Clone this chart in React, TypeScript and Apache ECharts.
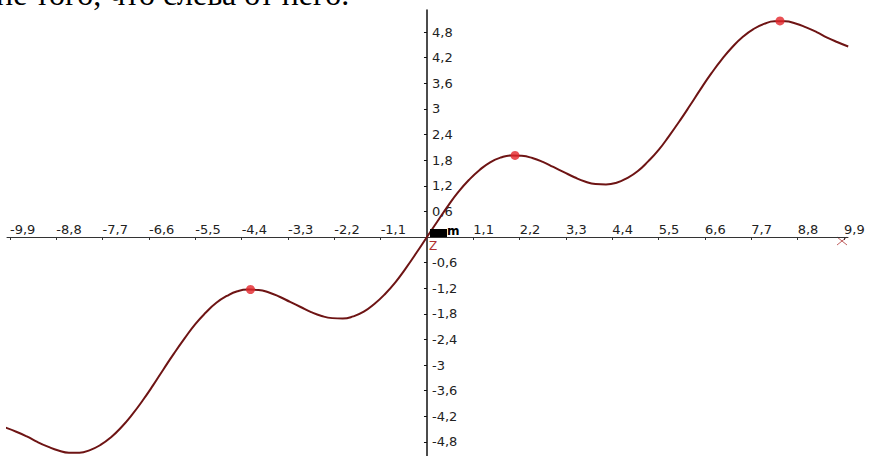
import { useEffect, useRef } from "react";
import * as echarts from "echarts";

// Traced curve, sampled every 0.25 along x
const curveX = [
  -10.13, -9.75, -9.5, -9.25, -9, -8.75, -8.5, -8.25, -8, -7.75, -7.5, -7.25, -7, -6.75,
  -6.5, -6.25, -6, -5.75, -5.5, -5.25, -5, -4.75, -4.5, -4.25, -4, -3.75, -3.5, -3.25, -3,
  -2.75, -2.5, -2.25, -2, -1.75, -1.5, -1.25, -1, -0.75, -0.5, -0.25, 0, 0.25, 0.5, 0.75, 1,
  1.25, 1.5, 1.75, 2, 2.25, 2.5, 2.75, 3, 3.25, 3.5, 3.75, 4, 4.25, 4.5, 4.75, 5, 5.25, 5.5,
  5.75, 6, 6.25, 6.5, 6.75, 7, 7.25, 7.5, 7.75, 8, 8.25, 8.5, 8.75, 9, 9.25, 9.5, 9.75, 10,
];
const curveY = [
  -4.42, -4.56, -4.67, -4.8, -4.91, -5.0, -5.05, -5.05, -4.99, -4.87, -4.69, -4.45,
  -4.16, -3.83, -3.47, -3.09, -2.72, -2.37, -2.04, -1.77, -1.54, -1.38, -1.27, -1.23, -1.24,
  -1.3, -1.4, -1.52, -1.64, -1.76, -1.85, -1.9, -1.91, -1.86, -1.75, -1.57, -1.34, -1.06,
  -0.73, -0.37, 0, 0.37, 0.73, 1.06, 1.34, 1.57, 1.75, 1.86, 1.91, 1.9, 1.85, 1.76, 1.64,
  1.52, 1.4, 1.3, 1.24, 1.23, 1.27, 1.38, 1.54, 1.77, 2.04, 2.37, 2.72, 3.09, 3.47, 3.83,
  4.16, 4.45, 4.69, 4.87, 4.99, 5.05, 5.05, 5.0, 4.91, 4.8, 4.67, 4.56, 4.46,
];

// Local maxima marked with dots
const peakX = [-4.19, 2.09, 8.38];
const peakY = [-1.23, 1.91, 5.06];

// Tick values on both axes
const xTickValues = [
  -9.9, -8.8, -7.7, -6.6, -5.5, -4.4, -3.3, -2.2, -1.1, 1.1, 2.2, 3.3, 4.4, 5.5, 6.6, 7.7, 8.8, 9.9,
];
const yTickValues = [
  -4.8, -4.2, -3.6, -3, -2.4, -1.8, -1.2, -0.6, 0.6, 1.2, 1.8, 2.4, 3, 3.6, 4.2, 4.8,
];

const caption = "не того, что слева от него.";

const fmt = (v: number) => String(Math.round(v * 10) / 10).replace(".", ",");

// Plot frame (pixels) and value window
const GRID_LEFT = 7;
const GRID_RIGHT = 23;
const GRID_TOP = 10;
const GRID_BOTTOM = 0;
const X_MIN = -9.97;
const X_MAX = 9.995;
const Y_MIN = -5.129;
const Y_MAX = 5.316;

export default function App() {
  const ref = useRef<HTMLDivElement>(null);

  useEffect(() => {
    if (!ref.current) return;
    const chart = echarts.init(ref.current, null, { renderer: "svg" });

    const W = 871;
    const H = 456;
    const plotW = W - GRID_LEFT - GRID_RIGHT;
    const plotH = H - GRID_TOP - GRID_BOTTOM;
    // shift the axes from the frame edges onto the zero lines
    const xAxisOffset = -((0 - Y_MIN) / (Y_MAX - Y_MIN)) * plotH;
    const yAxisOffset = -((0 - X_MIN) / (X_MAX - X_MIN)) * plotW;

    const labelFont = {
      color: "#222",
      fontFamily: "DejaVu Sans",
      fontSize: 13,
    };

    chart.setOption({
      animation: false,
      backgroundColor: "#fff",
      grid: {
        left: GRID_LEFT,
        right: GRID_RIGHT,
        top: GRID_TOP,
        bottom: GRID_BOTTOM,
        containLabel: false,
      },
      xAxis: {
        type: "value",
        position: "bottom",
        offset: xAxisOffset,
        min: X_MIN,
        max: X_MAX,
        splitLine: { show: false },
        axisLine: { onZero: false, lineStyle: { color: "#333", width: 1 } },
        axisTick: {
          show: true,
          length: 3,
          customValues: xTickValues,
          lineStyle: { color: "#333" },
        },
        axisLabel: {
          ...labelFont,
          inside: true,
          customValues: xTickValues,
          align: "left",
          verticalAlign: "bottom",
          margin: 1,
          formatter: (v: number) => fmt(v),
        },
      },
      yAxis: {
        type: "value",
        position: "left",
        offset: yAxisOffset,
        min: Y_MIN,
        max: Y_MAX,
        splitLine: { show: false },
        axisLine: { onZero: false, lineStyle: { color: "#111", width: 1.5 } },
        axisTick: {
          show: true,
          length: 3,
          customValues: yTickValues,
          lineStyle: { color: "#111" },
        },
        axisLabel: {
          ...labelFont,
          inside: true,
          customValues: yTickValues,
          align: "left",
          verticalAlign: "middle",
          margin: 5,
          formatter: (v: number) => fmt(v),
        },
      },
      series: [
        {
          type: "line",
          data: curveX.map((x, i) => [x, curveY[i]]),
          smooth: true,
          showSymbol: false,
          clip: false,
          lineStyle: { color: "#6e1414", width: 2 },
          z: 3,
        },
        {
          type: "scatter",
          data: peakX.map((x, i) => [x, peakY[i]]),
          symbolSize: 9,
          itemStyle: { color: "#e3262b" },
          clip: false,
          z: 4,
        },
      ],
      graphic: [
        {
          type: "text",
          x: -4,
          y: 10,
          style: {
            text: caption,
            fill: "#000",
            font: '32px "Liberation Serif"',
            verticalAlign: "bottom",
          },
        },
        {
          type: "rect",
          shape: { x: 430, y: 229, width: 17, height: 8 },
          style: { fill: "#000" },
          z: 10,
        },
        {
          type: "text",
          x: 447,
          y: 237,
          style: {
            text: "m",
            fill: "#000",
            font: 'bold 12px "DejaVu Sans"',
            verticalAlign: "bottom",
          },
          z: 10,
        },
        {
          type: "text",
          x: 429,
          y: 240,
          style: {
            text: "Z",
            fill: "#b03030",
            font: '12px "DejaVu Sans"',
            verticalAlign: "top",
          },
          z: 10,
        },
        {
          type: "line",
          shape: { x1: 837, y1: 237, x2: 847, y2: 245 },
          style: { stroke: "#c06060", lineWidth: 1 },
        },
        {
          type: "line",
          shape: { x1: 847, y1: 237, x2: 837, y2: 245 },
          style: { stroke: "#c06060", lineWidth: 1 },
        },
      ],
    });

    return () => chart.dispose();
  }, []);

  return (
    <div
      ref={ref}
      style={{ position: "fixed", left: 0, top: 0, width: 871, height: 456 }}
    />
  );
}
